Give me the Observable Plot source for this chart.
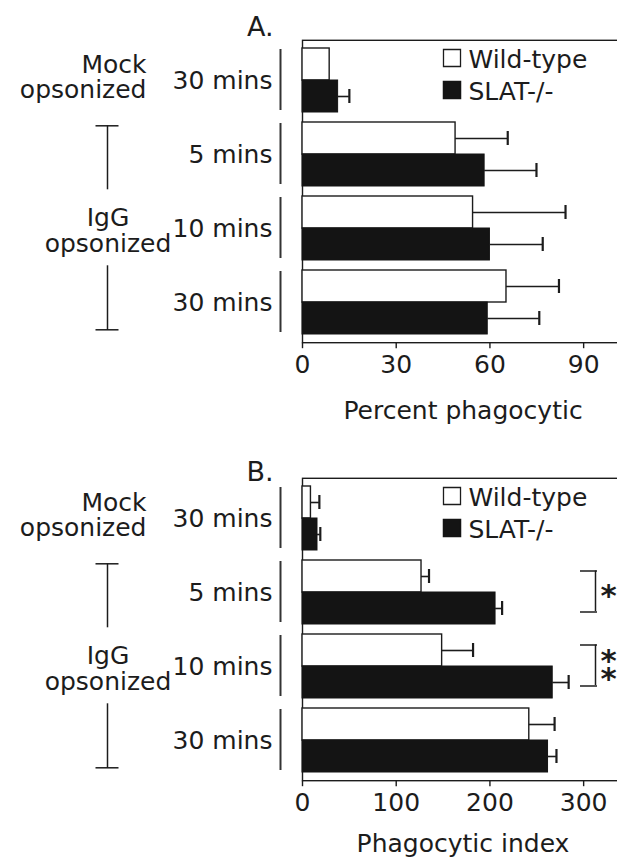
<!DOCTYPE html>
<html><head><meta charset="utf-8">
<script src="https://cdn.jsdelivr.net/npm/d3@7"></script>
<script src="https://cdn.jsdelivr.net/npm/@observablehq/plot@0.6"></script>
<style>
html,body{margin:0;padding:0;background:#fff;overflow:hidden;width:617px;height:857px}
#chart svg{display:block;max-width:none}
</style></head><body><div id="chart"></div>
<script>
// ---- data ----
const groups = ["Mock 30", "IgG 5", "IgG 10", "IgG 30"];
const groupLabels = ["30 mins", "5 mins", "10 mins", "30 mins"];
const series = ["Wild-type", "SLAT-/-"];
// Panel A: percent phagocytic (mean, error)
const pctWT = [8.7, 49, 54.6, 65.3];
const pctWTErr = [0, 16.7, 29.6, 16.8];
const pctKO = [11.4, 58.3, 60, 59.3];
const pctKOErr = [3.6, 16.6, 16.9, 16.5];
const pctTicks = [0, 30, 60, 90];
// Panel B: phagocytic index (mean, error)
const idxWT = [9, 127, 149, 242];
const idxWTErr = [9, 8, 33, 27];
const idxKO = [16, 206, 267, 262];
const idxKOErr = [3, 7, 17, 9];
const idxTicks = [0, 100, 200, 300];
const sigB = [{group: "IgG 5", text: "*"}, {group: "IgG 10", text: "*\n*"}];

const INK = "#1c1c1c";
const FONT = "DejaVu Sans";
const OUTER = 8.2; // fy outer padding in px (frame extends past the facets)

function panel({letter, letterDy, wt, wtErr, ko, koErr, domain, ticks, label, height, marginBottom, labelDy, sig}) {
  const rows = groups.flatMap((g, i) => [
    {group: g, series: series[0], value: wt[i], err: wtErr[i]},
    {group: g, series: series[1], value: ko[i], err: koErr[i]}
  ]);
  const withErr = rows.filter(d => d.err > 0);
  const marks = [
    Plot.frame({facet: "super", insetTop: -OUTER, insetBottom: -OUTER, stroke: INK, strokeWidth: 1.4}),
    Plot.barX(rows.filter(d => d.series === series[0]), {fy: "group", y: "series", x: "value", fill: "white", stroke: INK, strokeWidth: 1.4}),
    Plot.barX(rows.filter(d => d.series === series[1]), {fy: "group", y: "series", x: "value", fill: "#141414", stroke: "#141414", strokeWidth: 1}),
    Plot.ruleY(withErr, {fy: "group", y: "series", x1: "value", x2: d => d.value + d.err, stroke: INK, strokeWidth: 1.6}),
    Plot.tickX(withErr, {fy: "group", y: "series", x: d => d.value + d.err, insetTop: 9, insetBottom: 9, stroke: INK, strokeWidth: 2.2}),
    // group separators left of the axis
    Plot.ruleX(groups, {fy: d => d, x: 0, dx: -22, insetTop: 1, insetBottom: 2, stroke: "#333", strokeWidth: 2}),
    Plot.text(groups, {fy: d => d, text: (d, i) => groupLabels[i], frameAnchor: "left", dx: -30, textAnchor: "end", fontSize: 25}),
    // treatment labels
    Plot.text(["Mock\nopsonized"], {fy: () => "Mock 30", frameAnchor: "left", dx: -156, dy: -3, textAnchor: "end", lineHeight: 1.0, fontSize: 25}),
    Plot.text(["IgG\nopsonized"], {fy: () => "IgG 10", frameAnchor: "left", dx: -194.5, dy: 2, textAnchor: "middle", lineHeight: 1.04, fontSize: 25}),
    Plot.ruleX([0], {fy: () => "IgG 5", x: 0, dx: -195, insetTop: 3.3, insetBottom: -3.3, stroke: INK, strokeWidth: 1.5}),
    Plot.ruleY([0], {fy: () => "IgG 5", y: () => series[0], x1: 0, x2: 0, insetLeft: -11.5, insetRight: -11.5, dx: -195, dy: -12.7, stroke: INK, strokeWidth: 1.5}),
    Plot.ruleX([0], {fy: () => "IgG 30", x: 0, dx: -195, insetTop: -4.7, insetBottom: 4, stroke: INK, strokeWidth: 1.5}),
    Plot.ruleY([0], {fy: () => "IgG 30", y: () => series[1], x1: 0, x2: 0, insetLeft: -11.5, insetRight: -11.5, dx: -195, dy: 11.3, stroke: INK, strokeWidth: 1.5}),
    // legend
    Plot.dot([series[0]], {fy: () => "Mock 30", y: d => d, frameAnchor: "left", dx: 149.5, dy: -6.5, symbol: "square", r: 9.6, fill: "white", stroke: INK, strokeWidth: 1.3}),
    Plot.dot([series[1]], {fy: () => "Mock 30", y: d => d, frameAnchor: "left", dx: 149.5, dy: -6.5, symbol: "square", r: 9.6, fill: "#141414", stroke: "#141414"}),
    Plot.text(series, {fy: () => "Mock 30", y: d => d, frameAnchor: "left", dx: 166, dy: -5, textAnchor: "start", fontSize: 25}),
    // axis (shifted down to the frame's bottom edge, below the facets' outer padding)
    Plot.axisX({ticks, tickSize: 6, tickPadding: 7, dy: OUTER, fontSize: 25, label: null, stroke: INK, strokeWidth: 1.4}),
    Plot.text([label], {facet: "super", frameAnchor: "bottom", lineAnchor: "middle", dx: -3.5, dy: labelDy + OUTER, fontSize: 25}),
    Plot.text([letter], {facet: "super", frameAnchor: "top-left", lineAnchor: "middle", dx: -29, dy: letterDy, textAnchor: "end", fontSize: 27})
  ];
  if (sig) {
    marks.push(
      Plot.ruleX(sig, {fy: "group", x: 0, dx: 293, insetTop: 10.5, insetBottom: 13, stroke: INK, strokeWidth: 1.5}),
      Plot.ruleY(sig, {fy: "group", y: () => series[0], x1: 0, x2: 0, insetLeft: -8.5, insetRight: -8.5, dx: 286.5, dy: -5.5, stroke: INK, strokeWidth: 1.5}),
      Plot.ruleY(sig, {fy: "group", y: () => series[1], x1: 0, x2: 0, insetLeft: -8.5, insetRight: -8.5, dx: 286.5, dy: 3.5, stroke: INK, strokeWidth: 1.5}),
      Plot.text(sig, {fy: "group", x: 0, dx: 306, dy: 8, text: "text", fontSize: 31, fontWeight: "bold", lineHeight: 0.58})
    );
  }
  return Plot.plot({
    width: 630, height,
    marginLeft: 302, marginRight: 0, marginTop: 39, marginBottom,
    style: {fontFamily: FONT, fontSize: "25px", color: INK, background: "white", maxWidth: "none", overflow: "visible"},
    x: {domain, axis: null},
    y: {domain: series, padding: 0, axis: null},
    fy: {domain: groups, paddingInner: 0.14, paddingOuter: 0.11, axis: null},
    marks
  });
}

const chart = document.getElementById("chart");
chart.append(panel({letter: "A.", letterDy: -20.8, wt: pctWT, wtErr: pctWTErr, ko: pctKO, koErr: pctKOErr, domain: [0, 105], ticks: pctTicks, label: "Percent phagocytic", height: 438, marginBottom: 95, labelDy: 68}));
chart.append(panel({letter: "B.", letterDy: -13.8, wt: idxWT, wtErr: idxWTErr, ko: idxKO, koErr: idxKOErr, domain: [0, 350], ticks: idxTicks, label: "Phagocytic index", height: 419, marginBottom: 76, labelDy: 63, sig: sigB}));
</script></body></html>
